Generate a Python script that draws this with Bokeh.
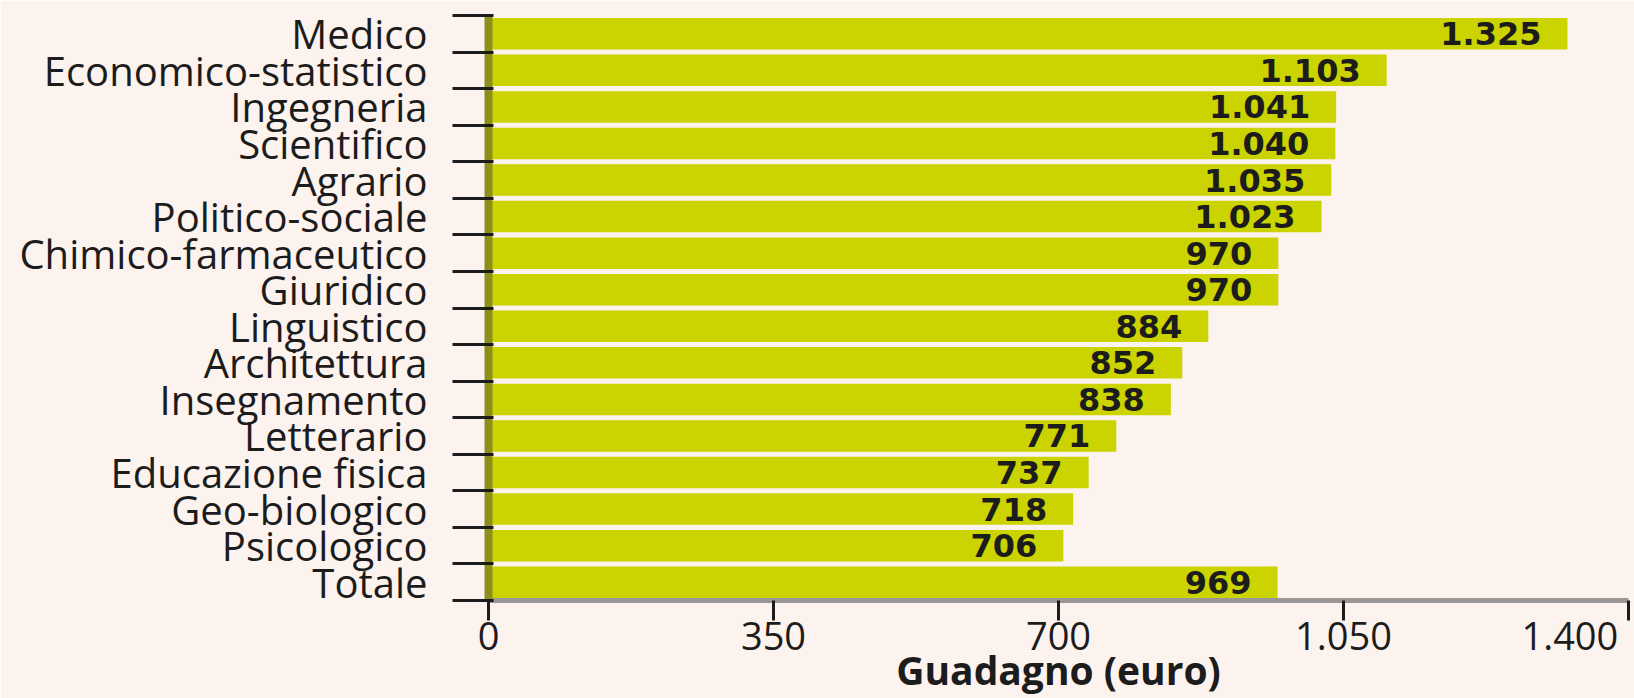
from bokeh.plotting import figure
from bokeh.models import FixedTicker, Range1d, ColumnDataSource
from bokeh.core.properties import value
from bokeh.embed import file_html
from bokeh.resources import INLINE

# ---- data ----
categories = [
    "Medico", "Economico-statistico", "Ingegneria", "Scientifico", "Agrario",
    "Politico-sociale", "Chimico-farmaceutico", "Giuridico", "Linguistico",
    "Architettura", "Insegnamento", "Letterario", "Educazione fisica",
    "Geo-biologico", "Psicologico", "Totale",
]
earnings = [1325, 1103, 1041, 1040, 1035, 1023, 970, 970, 884, 852, 838, 771, 737, 718, 706, 969]
x_ticks = [0, 350, 700, 1050, 1400]
x_tick_labels = ["0", "350", "700", "1.050", "1.400"]
x_title = "Guadagno (euro)"

# ---- style ----
BG = "#fcf3ef"
BAR = "#cbd300"
OLIVE = "#8e8e1a"
INK = "#1c1c1c"
LABEL_FONT = "Open Sans"

n = len(categories)
ypos = [n - 1 - i for i in range(n)]
value_text = [f"{v:,}".replace(",", ".") for v in earnings]

src = ColumnDataSource(dict(y=ypos, v=earnings, lbl=value_text, cat=categories))

p = figure(
    width=1634, height=698,
    x_range=Range1d(0, 1400), y_range=Range1d(-0.5, n - 0.5),
    output_backend="svg", toolbar_location=None,
    min_border_left=488, min_border_right=6, min_border_top=15, min_border_bottom=60,
    background_fill_color=BG, border_fill_color=BG, outline_line_color=None,
)
p.xgrid.grid_line_color = None
p.ygrid.grid_line_color = None

p.hbar(y="y", right="v", left=0, height=0.86, source=src,
       fill_color=BAR, line_color=None)

p.text(x="v", y="y", text="lbl", source=src, x_offset=-26,
       text_align="right", text_baseline="middle",
       text_font=value("DejaVu Sans"), text_font_style="bold",
       text_font_size="32px", text_color=INK)

# y axis: labels at centres, ticks at boundaries
ya = p.yaxis[0]
ya.ticker = FixedTicker(ticks=ypos, minor_ticks=[k - 0.5 for k in range(n + 1)])
ya.major_label_overrides = {y: c for y, c in zip(ypos, categories)}
ya.major_tick_line_color = None
ya.major_tick_out = 0
ya.major_tick_in = 0
ya.minor_tick_out = 36
ya.minor_tick_in = 5
ya.minor_tick_line_color = INK
ya.minor_tick_line_width = 3
ya.axis_line_color = OLIVE
ya.axis_line_width = 8
ya.major_label_standoff = 25
ya.major_label_text_font = LABEL_FONT
ya.major_label_text_font_size = "40px"
ya.major_label_text_color = INK

xa = p.xaxis[0]
xa.ticker = FixedTicker(ticks=x_ticks)
overrides = {t: l for t, l in zip(x_ticks, x_tick_labels)}
overrides[x_ticks[-1]] = x_tick_labels[-1] + "\u00a0\u2009"
xa.major_label_overrides = overrides
xa.major_tick_out = 20
xa.major_tick_in = 0
xa.major_tick_line_width = 3
xa.major_tick_line_color = INK
xa.minor_tick_line_color = None
xa.axis_line_color = "#9a9696"
xa.axis_line_width = 5
xa.major_label_standoff = -12
xa.major_label_text_font = LABEL_FONT
xa.major_label_text_font_size = "38px"
xa.major_label_text_color = INK
xa.axis_label = x_title
xa.axis_label_standoff = -21
xa.axis_label_text_font = LABEL_FONT
xa.axis_label_text_font_style = "bold"
xa.axis_label_text_font_size = "39px"
xa.axis_label_text_color = INK

open("out.html", "w").write(file_html(p, INLINE))
